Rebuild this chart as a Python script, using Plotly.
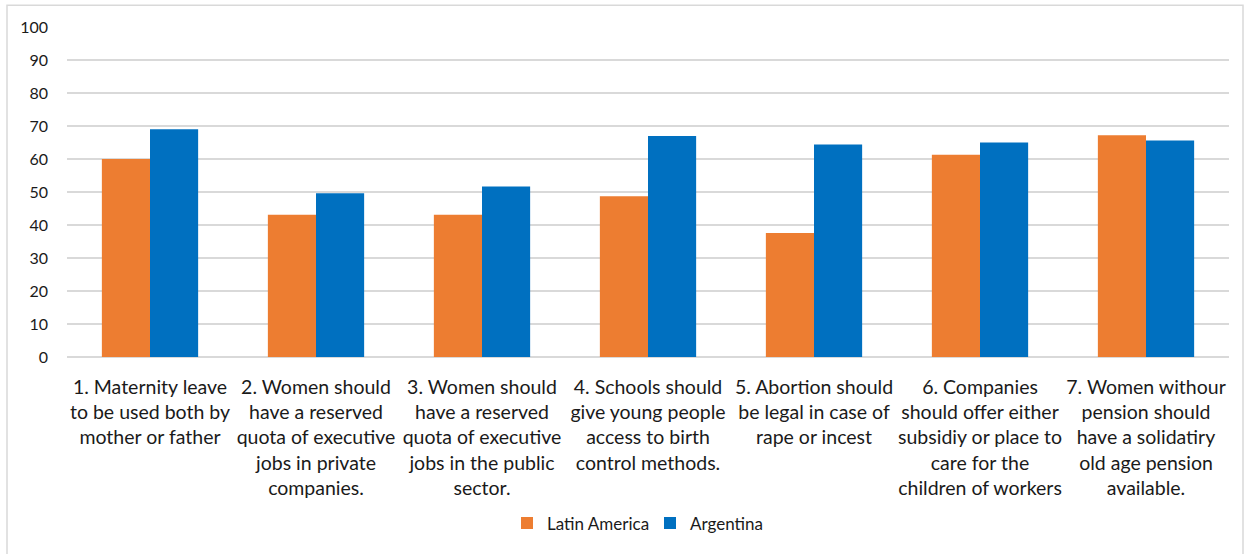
import plotly.graph_objects as go

categories = [
    "1. Maternity leave<br>to be used both by<br>mother or father",
    "2. Women should<br>have a reserved<br>quota of executive<br>jobs in private<br>companies.",
    "3. Women should<br>have a reserved<br>quota of executive<br>jobs in the public<br>sector.",
    "4. Schools should<br>give young people<br>access to birth<br>control methods.",
    "5. Abortion should<br>be legal in case of<br>rape or incest",
    "6. Companies<br>should offer either<br>subsidiy or place to<br>care for the<br>children of workers",
    "7. Women withour<br>pension should<br>have a solidatiry<br>old age pension<br>available.",
]
latin_america = [60.0, 43.1, 43.1, 48.7, 37.6, 61.3, 67.2]
argentina = [69.0, 49.6, 51.7, 67.0, 64.4, 65.0, 65.6]
y_ticks = [0, 10, 20, 30, 40, 50, 60, 70, 80, 90, 100]

W, H = 1249, 554
L, R, T, B = 67, 20, 27, 194
PW, PH = W - L - R, H - T - B


def px_x(px):
    return (px - L) / PW


def px_y(py):
    return (T + PH - py) / PH


x_idx = list(range(len(categories)))

fig = go.Figure()
fig.add_trace(go.Bar(
    x=x_idx, y=latin_america, name="Latin America",
    marker=dict(color="#ED7D31", line=dict(width=0)),
))
fig.add_trace(go.Bar(
    x=x_idx, y=argentina, name="Argentina",
    marker=dict(color="#0070C0", line=dict(width=0)),
))

font_family = "Lato, 'Open Sans', sans-serif"

fig.update_layout(
    width=W, height=H,
    margin=dict(l=L, r=R, t=T, b=B),
    paper_bgcolor="white", plot_bgcolor="white",
    barmode="group", bargap=0.42, bargroupgap=0,
    font=dict(family=font_family, color="#1a1a1a"),
    showlegend=True,
    legend=dict(
        orientation="h", x=px_x(507), xanchor="left",
        y=px_y(528), yanchor="middle",
        font=dict(size=17, color="#1a1a1a"),
        itemwidth=30, traceorder="normal",
        entrywidth=98, entrywidthmode="pixels",
    ),
    xaxis=dict(
        tickmode="array", tickvals=x_idx, ticktext=categories,
        range=[-0.5, len(categories) - 0.5],
        tickfont=dict(size=19.5, color="#1a1a1a"),
        showgrid=False, zeroline=False, showline=False,
        ticks="", ticklabelstandoff=16,
    ),
    yaxis=dict(
        range=[0, 100], tickvals=y_ticks,
        tickfont=dict(size=16, color="#1a1a1a"),
        showgrid=True, gridcolor="#D9D9D9", gridwidth=1.5,
        zeroline=True, zerolinecolor="#D9D9D9", zerolinewidth=1.5,
        showline=False, ticks="", ticklabelstandoff=18,
    ),
    shapes=[dict(
        type="rect", xref="paper", yref="paper",
        x0=px_x(7), x1=px_x(1243),
        y0=px_y(560), y1=px_y(5),
        line=dict(color="#D9D9D9", width=1.5), layer="below",
    )],
)

fig.write_html("out.html")
